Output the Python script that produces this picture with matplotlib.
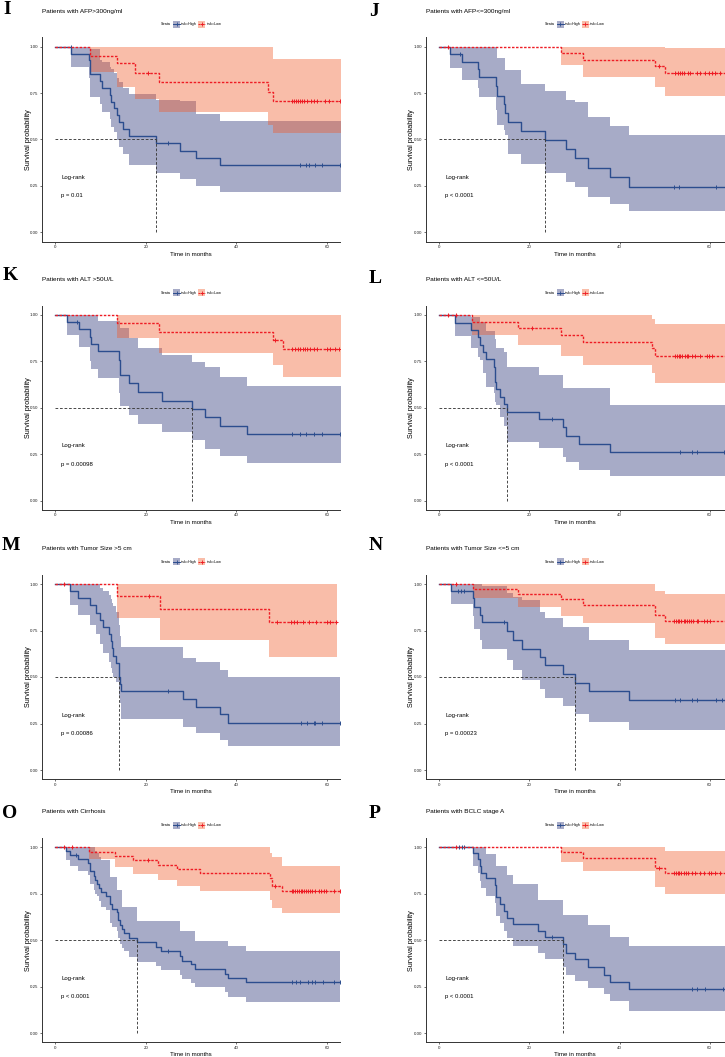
import numpy as np
import matplotlib
matplotlib.use('Agg')
import matplotlib.pyplot as plt
from matplotlib.patches import Rectangle
from matplotlib.lines import Line2D

plt.rcParams['font.family'] = ['Liberation Sans', 'DejaVu Sans']

# ---- data (time in months, survival probability) ----
# I: AFP > 300
i_high_time = [0, 3.5, 7.4, 7.8, 9.9, 10.3, 12.2, 12.4, 12.9, 13.6, 14.0, 14.9, 16.2, 22.2, 27.6, 31.0, 36.5]
i_high_surv = [1, .963, .926, .852, .815, .778, .741, .704, .667, .630, .593, .556, .519, .481, .44, .40, .36]
i_high_lower = [1, .89, .83, .73, .69, .65, .61, .57, .54, .50, .46, .42, .36, .32, .285, .25, .215]
i_high_upper = [1, 1, 1, .99, .93, .92, .89, .88, .86, .83, .81, .78, .745, .715, .71, .64, .60]
i_high_cens = [3.4, 25.0, 54.1, 55.5, 56.0, 57.4, 58.9, 62.8]
i_low_time = [0, 7.6, 13.6, 17.7, 23.0, 47.1, 48.2]
i_low_surv = [1, .952, .91, .86, .81, .758, .707]
i_low_lower = [1, .865, .785, .716, .65, .58, .533]
i_low_upper = [1, 1, 1, 1, 1, 1, .934]
i_low_cens = [20.5, 52.3, 52.7, 53.2, 53.6, 54.0, 54.5, 54.9, 55.6, 56.5, 57.1, 57.8, 59.6, 60.4, 62.8]

# J: AFP <= 300
j_high_time = [0, 2.4, 5.0, 8.6, 8.9, 12.6, 12.8, 14.3, 14.5, 15.2, 18.2, 23.4, 28.1, 30.2, 33.1, 37.9, 42.2]
j_high_surv = [1, .96, .92, .878, .835, .788, .737, .69, .645, .596, .546, .497, .447, .399, .345, .296, .246]
j_high_lower = [1, .885, .82, .775, .73, .66, .58, .55, .525, .42, .37, .32, .27, .245, .19, .155, .117]
j_high_upper = [1, 1, 1, 1, 1, 1, .937, .937, .874, .874, .80, .763, .713, .70, .623, .573, .524]
j_high_cens = [4.7, 52.1, 53.3, 61.5]
j_low_time = [0, 27.1, 31.8, 47.9, 50.1]
j_low_surv = [1, .964, .928, .896, .86]
j_low_lower = [1, .90, .838, .785, .734]
j_low_upper = [1, 1, 1, 1, .995]
j_low_cens = [1.9, 48.7, 52.4, 52.9, 53.5, 53.8, 54.2, 55.3, 55.7, 57.2, 57.9, 59.0, 59.8, 60.5, 61.2, 62.4]

# K: ALT > 50
k_high_time = [0, 2.6, 5.3, 7.7, 7.9, 9.4, 14.1, 14.4, 16.2, 18.2, 23.6, 30.2, 33.0, 36.4, 42.3]
k_high_surv = [1, .96, .925, .883, .844, .804, .76, .677, .632, .583, .539, .494, .449, .404, .359]
k_high_lower = [1, .89, .825, .75, .71, .66, .58, .51, .46, .415, .37, .325, .28, .24, .205]
k_high_upper = [1, 1, 1, 1, 1, .968, .968, .93, .875, .82, .785, .745, .72, .668, .618]
k_high_cens = [4.8, 52.3, 54.1, 55.4, 57.2, 58.9, 62.8]
k_low_time = [0, 13.6, 23.0, 48.1, 50.3]
k_low_surv = [1, .955, .91, .865, .815]
k_low_lower = [1, .875, .795, .73, .665]
k_low_upper = [1, 1, 1, 1, 1]
k_low_cens = [48.6, 52.3, 53.0, 53.6, 54.1, 54.7, 55.2, 55.6, 56.2, 57.1, 57.8, 60.0, 60.7, 61.7, 62.6]

# L: ALT <= 50
l_high_time = [0, 3.4, 7.1, 8.7, 9.1, 9.8, 10.4, 12.1, 12.4, 12.6, 13.5, 14.4, 15.0, 22.2, 27.4, 28.1, 30.9, 37.9]
l_high_surv = [1, .959, .919, .88, .84, .80, .761, .718, .64, .60, .56, .52, .479, .438, .395, .35, .305, .264]
l_high_lower = [1, .887, .82, .775, .758, .686, .614, .578, .53, .515, .45, .40, .318, .282, .237, .21, .165, .133]
l_high_upper = [1, 1, .99, .99, .96, .96, .916, .916, .87, .82, .82, .80, .718, .677, .605, .605, .605, .515]
l_high_cens = [24.9, 53.5, 56.1, 57.2, 63.1]
l_low_time = [0, 7.2, 17.5, 27.1, 31.9, 47.2, 47.9]
l_low_surv = [1, .964, .928, .892, .856, .82, .779]
l_low_lower = [1, .892, .838, .779, .73, .686, .636]
l_low_upper = [1, 1, 1, 1, 1, .98, .95]
l_low_cens = [1.9, 3.8, 20.6, 52.4, 52.7, 53.1, 53.5, 53.8, 54.6, 54.9, 55.3, 56.1, 56.8, 57.9, 59.4, 59.8, 60.5]

# M: tumor size > 5 cm
m_high_time = [0, 3.3, 5.1, 7.8, 9.0, 10.0, 10.5, 12.0, 12.4, 12.6, 12.7, 13.5, 14.0, 14.2, 14.3, 14.5, 28.2, 31.0, 36.5, 38.1]
m_high_surv = [1, .962, .923, .885, .846, .808, .769, .731, .692, .654, .615, .577, .538, .50, .462, .423, .382, .34, .30, .255]
m_high_lower = [1, .887, .833, .78, .73, .68, .627, .58, .55, .52, .50, .475, .44, .40, .36, .272, .233, .197, .161, .131]
m_high_upper = [1, 1, 1, 1, 1, .98, .96, .94, .92, .90, .88, .85, .81, .78, .72, .663, .60, .58, .54, .50]
m_high_cens = [24.9, 54.3, 55.6, 57.1, 57.4, 58.9, 63.0]
m_low_time = [0, 13.6, 23.1, 47.2]
m_low_surv = [1, .935, .866, .794]
m_low_lower = [1, .815, .70, .605]
m_low_upper = [1, 1, 1, 1]
m_low_cens = [2.0, 20.7, 48.9, 52.1, 52.7, 53.4, 54.7, 56.0, 57.5, 60.0, 60.6, 62.1]

# N: tumor size <= 5 cm
n_high_time = [0, 2.6, 7.4, 7.7, 9.1, 9.5, 15.0, 16.4, 18.4, 22.3, 23.5, 27.4, 30.1, 33.2, 42.2]
n_high_surv = [1, .962, .923, .878, .836, .797, .746, .70, .653, .608, .563, .514, .469, .423, .378]
n_high_lower = [1, .89, .83, .76, .70, .65, .59, .536, .486, .437, .388, .342, .30, .257, .216]
n_high_upper = [1, 1, 1, 1, 1, .99, .95, .93, .915, .847, .815, .77, .77, .698, .644]
n_high_cens = [4.2, 4.9, 5.5, 14.4, 52.2, 53.4, 56.0, 57.1, 61.5, 62.8]
n_low_time = [0, 7.4, 17.5, 27.0, 32.0, 47.9, 50.1]
n_low_surv = [1, .971, .944, .919, .886, .833, .80]
n_low_lower = [1, .923, .877, .829, .788, .707, .68]
n_low_upper = [1, 1, 1, 1, 1, .964, .944]
n_low_cens = [3.8, 52.1, 52.5, 52.9, 53.3, 53.7, 54.2, 54.6, 55.0, 55.4, 55.8, 56.2, 57.1, 57.5, 58.8, 59.5, 60.1]

# O: cirrhosis
o_high_time = [0, 2.4, 3.2, 5.0, 7.2, 7.8, 8.5, 8.9, 9.3, 9.6, 10.1, 11.3, 12.2, 12.6, 13.6,
               13.9, 14.3, 14.7, 15.2, 16.3, 18.1, 22.2, 23.3, 27.6, 28.1, 29.9, 30.9, 37.6, 38.1, 42.2]
o_high_surv = [1, .978, .957, .935, .914, .87, .848, .826, .805, .783, .76, .74, .695, .67, .65,
               .61, .58, .56, .54, .51, .49, .465, .44, .415, .39, .37, .344, .32, .296, .272]
o_high_lower = [1, .93, .90, .87, .85, .80, .77, .75, .74, .71, .68, .66, .59, .57, .55,
                .51, .48, .46, .44, .41, .385, .36, .34, .31, .29, .27, .25, .22, .195, .165]
o_high_upper = [1, 1, 1, 1, 1, 1, 1, .98, .97, .95, .93, .93, .84, .84, .77,
                .77, .77, .68, .68, .68, .605, .605, .605, .547, .547, .547, .493, .493, .466, .443]
o_high_cens = [4.7, 25.0, 52.2, 53.2, 54.1, 55.9, 56.8, 57.4, 59.1, 61.5, 63.0]
o_low_time = [0, 7.4, 13.3, 17.3, 22.8, 27.0, 31.9, 47.4, 47.9, 50.2]
o_low_surv = [1, .977, .955, .932, .905, .883, .86, .833, .792, .767]
o_low_lower = [1, .935, .892, .855, .824, .794, .762, .717, .672, .645]
o_low_upper = [1, 1, 1, 1, 1, 1, 1, .97, .95, .90]
o_low_cens = [1.9, 3.7, 20.5, 48.6, 52.2, 52.6, 53.0, 53.4, 53.8, 54.2, 54.6, 55.0, 55.4, 55.8,
              56.3, 56.8, 57.4, 58.2, 58.8, 59.3, 59.9, 61.5, 63.0]

# P: BCLC stage A
p_high_time = [0, 7.5, 8.6, 9.0, 9.3, 10.4, 12.3, 12.6, 13.4, 14.3, 15.0, 16.3, 22.0, 23.5, 27.4, 28.1, 30.2, 33.1, 36.5, 37.9, 42.2]
p_high_surv = [1, .968, .935, .90, .863, .833, .797, .73, .692, .658, .62, .586, .55, .518, .477, .433, .396, .356, .315, .275, .236]
p_high_lower = [1, .90, .86, .82, .78, .74, .70, .63, .59, .55, .51, .47, .43, .40, .355, .315, .28, .24, .21, .175, .12]
p_high_upper = [1, 1, 1, 1, 1, .962, .962, .90, .90, .90, .85, .80, .716, .716, .635, .635, .635, .58, .58, .518, .47]
p_high_cens = [4.3, 5.0, 5.4, 24.9, 56.1, 57.2, 59.0, 62.9]
p_low_time = [0, 27.1, 31.9, 47.9, 50.1]
p_low_surv = [1, .973, .944, .89, .86]
p_low_lower = [1, .923, .872, .788, .748]
p_low_upper = [1, 1, 1, 1, .982]
p_low_cens = [3.8, 48.7, 52.1, 52.5, 52.9, 53.3, 53.7, 54.2, 54.7, 55.3, 56.1, 56.8, 57.9, 58.8, 59.8, 60.4, 61.2, 62.4]

letters = ['I', 'J', 'K', 'L', 'M', 'N', 'O', 'P']
titles = ['Patients with AFP>300ng/ml', 'Patients with AFP<=300ng/ml',
          'Patients with ALT >50U/L', 'Patients with ALT <=50U/L',
          'Patients with Tumor Size >5 cm', 'Patients with Tumor Size <=5 cm',
          'Patients with Cirrhosis', 'Patients with BCLC stage A']
pvalues = ['p = 0.01', 'p < 0.0001', 'p = 0.00098', 'p < 0.0001',
           'p = 0.00086', 'p = 0.00023', 'p < 0.0001', 'p < 0.0001']
high_end = [64, 64, 64, 64, 63.0, 64, 63.0, 64]
low_end = [64, 64, 64, 64, 62.2, 64, 63.0, 64]

high_groups = [
    (i_high_time, i_high_surv, i_high_lower, i_high_upper, i_high_cens),
    (j_high_time, j_high_surv, j_high_lower, j_high_upper, j_high_cens),
    (k_high_time, k_high_surv, k_high_lower, k_high_upper, k_high_cens),
    (l_high_time, l_high_surv, l_high_lower, l_high_upper, l_high_cens),
    (m_high_time, m_high_surv, m_high_lower, m_high_upper, m_high_cens),
    (n_high_time, n_high_surv, n_high_lower, n_high_upper, n_high_cens),
    (o_high_time, o_high_surv, o_high_lower, o_high_upper, o_high_cens),
    (p_high_time, p_high_surv, p_high_lower, p_high_upper, p_high_cens),
]
low_groups = [
    (i_low_time, i_low_surv, i_low_lower, i_low_upper, i_low_cens),
    (j_low_time, j_low_surv, j_low_lower, j_low_upper, j_low_cens),
    (k_low_time, k_low_surv, k_low_lower, k_low_upper, k_low_cens),
    (l_low_time, l_low_surv, l_low_lower, l_low_upper, l_low_cens),
    (m_low_time, m_low_surv, m_low_lower, m_low_upper, m_low_cens),
    (n_low_time, n_low_surv, n_low_lower, n_low_upper, n_low_cens),
    (o_low_time, o_low_surv, o_low_lower, o_low_upper, o_low_cens),
    (p_low_time, p_low_surv, p_low_lower, p_low_upper, p_low_cens),
]

BLUE_LINE = '#2c4d8e'
BLUE_FILL = '#252f75'
RED_LINE = '#ee1c24'
RED_FILL = '#f05a2a'
FILL_ALPHA = 0.4
RED_LS = (0, (1.8, 1.1))

# layout in pixels
W, H = 725, 1057
col_left = [42.0, 425.5]
col_right = [340.0, 725.0]
col_xlim = [(-2.9, 62.9), (-3.06, 63.4)]
row_top = [37.4, 305.7, 574.7, 838.0]
row_bottom = [241.6, 510.0, 779.3, 1042.3]
letter_pos = [(3, 9), (369, 11), (3, 276), (369, 278), (2, 545), (369, 545), (2, 813), (369, 813)]


def fx(x):
    return x / W


def fy(y):
    return 1 - y / H


def ext(vals, end_val):
    return np.append(np.asarray(vals, float), end_val)


def draw_band(ax, grp, end, color):
    t, s, lo, hi, _ = grp
    ax.fill_between(ext(t, end), ext(lo, lo[-1]), ext(hi, hi[-1]), step='post',
                    color=color, alpha=FILL_ALPHA, lw=0)


def draw_curve(ax, grp, end, color, ls):
    t, s, lo, hi, cens = grp
    ax.step(ext(t, end), ext(s, s[-1]), where='post', color=color, lw=1.0, ls=ls)
    idx = np.searchsorted(t, cens, side='right') - 1
    ax.plot(cens, np.asarray(s)[idx], ls='none', marker='+', ms=3.3, mew=0.7, color=color)


def draw_legend(fig, x0, yc):
    fs = 2.7
    fig.text(fx(x0 + 119), fy(yc), 'Strata', fontsize=fs, va='center', ha='left')
    for k, (fill, line, ls, lab) in enumerate([(BLUE_FILL, BLUE_LINE, '-', 'risk=High'),
                                               (RED_FILL, RED_LINE, (0, (1.5, 0.8)), 'risk=Low')]):
        px0 = x0 + 131 + k * 25.3
        fig.add_artist(Rectangle((fx(px0), fy(yc + 3.5)), 7 / W, 7 / H, transform=fig.transFigure,
                                 facecolor=fill, alpha=FILL_ALPHA, lw=0))
        fig.add_artist(Line2D([fx(px0), fx(px0 + 7)], [fy(yc), fy(yc)], transform=fig.transFigure,
                              color=line, lw=0.7, ls=ls))
        fig.add_artist(Line2D([fx(px0 + 3.5)], [fy(yc)], transform=fig.transFigure, color=line,
                              marker='+', ms=2.5, mew=0.6))
        fig.text(fx(px0 + 8), fy(yc), lab, fontsize=fs, va='center', ha='left')


fig = plt.figure(figsize=(W / 100, H / 100), dpi=100)

for n in range(8):
    r, c = divmod(n, 2)
    x0, x1 = col_left[c], col_right[c]
    y0, y1 = row_top[r], row_bottom[r]
    ax = fig.add_axes([fx(x0), fy(y1), (x1 - x0) / W, (y1 - y0) / H])
    ax.set_xlim(*col_xlim[c])
    ax.set_ylim(-0.05, 1.05)

    hg, lg = high_groups[n], low_groups[n]
    draw_band(ax, hg, high_end[n], BLUE_FILL)
    draw_band(ax, lg, low_end[n], RED_FILL)
    draw_curve(ax, hg, high_end[n], BLUE_LINE, '-')
    draw_curve(ax, lg, low_end[n], RED_LINE, RED_LS)

    # median survival of the high-risk group
    hs = np.asarray(hg[1])
    med = hg[0][int(np.argmax(hs <= 0.5))]
    ax.plot([0, med], [0.5, 0.5], color='#3a3a3a', lw=0.65, ls=(0, (3, 2)))
    ax.plot([med, med], [0, 0.5], color='#3a3a3a', lw=0.65, ls=(0, (3, 2)))

    ax.text(1.3, 0.295, 'Log-rank', fontsize=4.3, va='center', ha='left')
    ax.text(1.3, 0.197, pvalues[n], fontsize=4.3, va='center', ha='left')

    for side in ['top', 'right']:
        ax.spines[side].set_visible(False)
    for side in ['left', 'bottom']:
        ax.spines[side].set_linewidth(0.7)
        ax.spines[side].set_color('#333333')
    ax.set_xticks([0, 20, 40, 60])
    ax.set_yticks([0, 0.25, 0.5, 0.75, 1.0])
    ax.set_yticklabels(['0.00', '0.25', '0.50', '0.75', '1.00'])
    ax.tick_params(labelsize=3.2, length=1.5, width=0.5, pad=1, colors='#333333', labelcolor='#222222')

    fig.text(fx((x0 + x1) / 2), fy(y1 + 12.5), 'Time in months',
             fontsize=4.4, ha='center', va='center')
    fig.text(fx(x0 - 14), fy((y0 + y1) / 2), 'Survival probability', fontsize=5.2,
             rotation=90, ha='center', va='center')

    fig.text(fx(x0), fy(y0 - 26.4), titles[n], fontsize=4.6, ha='left', va='center')
    draw_legend(fig, x0, y0 - 13)
    lx, ly = letter_pos[n]
    fig.text(fx(lx), fy(ly), letters[n], fontsize=14, fontweight='bold',
             family=['Liberation Serif', 'DejaVu Serif'], ha='left', va='center')

fig.savefig('out.png', dpi=100)
